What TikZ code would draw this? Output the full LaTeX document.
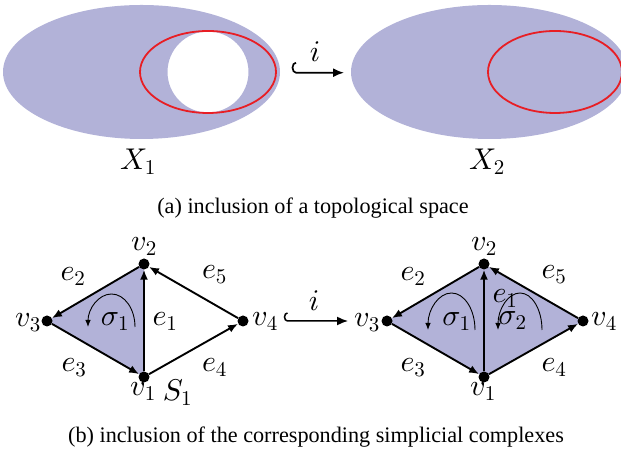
\documentclass[tikz,border=0pt]{standalone}
\usepackage[no-math]{fontspec}
\setmainfont{Liberation Serif}
\DeclareFontFamily{OML}{cmm}{\skewchar\font127 }
\DeclareFontShape{OML}{cmm}{m}{it}{<-8>cmmi7 <8->cmmi10}{}
\DeclareFontFamily{OT1}{cmr}{\hyphenchar\font45 }
\DeclareFontShape{OT1}{cmr}{m}{n}{<-8>cmr7 <8->cmr10}{}
\usetikzlibrary{arrows.meta,calc}
\definecolor{lav}{RGB}{178,178,216}
\definecolor{myred}{RGB}{232,30,36}
\tikzset{
  mlab/.style={inner sep=0pt, anchor=base, font=\fontsize{30}{32}\selectfont},
  captext/.style={inner sep=0pt, font=\fontsize{22.2}{24}\selectfont},
  dot/.style={circle, fill=black, inner sep=0pt, minimum size=11pt},
  edge/.style={line width=1.9pt, -{Latex[length=10pt,width=8pt]}},
  rot/.style={line width=0.9pt, -{Latex[length=7pt,width=5.5pt]}},
  incl/.style={line width=1.7pt, -{Latex[length=11pt,width=9pt]}},
  redloop/.style={draw=myred, line width=1.8pt}
}
\begin{document}
\begin{tikzpicture}[x=1pt,y=1pt]
\useasboundingbox (0,0) rectangle (621,462);
\clip (0,0) rectangle (621,462);
\begin{scope}[shift={(0,462)}, yscale=-1]
% ---- (a) topological spaces
\fill[lav, even odd rule] (141.5,72) ellipse[x radius=138.5, y radius=67]
      (208,72) circle[radius=40.5];
\draw[redloop] (208,72) ellipse[x radius=68, y radius=41];
\fill[lav] (489.5,72) ellipse[x radius=138.5, y radius=67];
\draw[redloop] (555,72) ellipse[x radius=67, y radius=41];
\coordinate (ta) at (295,72.7);
\coordinate (tb) at (344,72.7);
\draw[incl] ($(ta)+(1,-10)$) arc[start angle=270, end angle=90, x radius=3.5, y radius=5] -- (tb);
\node[mlab] (ti) at (315,62) {$i$};
\node[mlab] (X1) at (138,170) {$X_1$};
\node[mlab] (X2) at (487,170) {$X_2$};
\node[captext] (capa) at (313,208) {(a) inclusion of a topological space};
% ---- (b) simplicial complexes, left
\coordinate (p1) at (144,377);
\coordinate (p2) at (144,264);
\coordinate (p3) at (47,321);
\coordinate (p4) at (243,321);
\fill[lav] (p1) -- (p2) -- (p3) -- cycle;
\node[dot] (a1) at (p1) {};
\node[dot] (a2) at (p2) {};
\node[dot] (a3) at (p3) {};
\node[dot] (a4) at (p4) {};
\draw[edge] (a1) -- (a2);
\draw[edge] (a2) -- (a3);
\draw[edge] (a3) -- (a1);
\draw[edge] (a1) -- (a4);
\draw[edge] (a4) -- (a2);
\draw[rot] (135,327) arc[start angle=0, end angle=-180, x radius=23.5, y radius=33];
\node[mlab] at (115,326) {$\sigma_1$};
\node[mlab] at (144,251) {$v_2$};
\node[mlab] at (28,327) {$v_3$};
\node[mlab] at (265,326) {$v_4$};
\node[mlab] at (143,396) {$v_1$};
\node[mlab] at (177.5,401) {$S_1$};
\node[mlab] at (73,281) {$e_2$};
\node[mlab] at (214.5,279) {$e_5$};
\node[mlab] at (165,326) {$e_1$};
\node[mlab] at (74,372) {$e_3$};
\node[mlab] at (214.5,372) {$e_4$};
% inclusion arrow
\coordinate (ba) at (287,321);
\coordinate (bb) at (348,321);
\draw[incl, line width=1.5pt] ($(ba)+(0.5,-8)$) arc[start angle=270, end angle=90, x radius=3, y radius=4] -- (bb);
\node[mlab] (bi) at (314,311) {$i$};
% ---- right complex
\coordinate (q1) at (484,377);
\coordinate (q2) at (484,264);
\coordinate (q3) at (387,321);
\coordinate (q4) at (583,321);
\fill[lav] (q1) -- (q4) -- (q2) -- (q3) -- cycle;
\node[dot] (b1) at (q1) {};
\node[dot] (b2) at (q2) {};
\node[dot] (b3) at (q3) {};
\node[dot] (b4) at (q4) {};
\draw[edge] (b1) -- (b2);
\draw[edge] (b2) -- (b3);
\draw[edge] (b3) -- (b1);
\draw[edge] (b1) -- (b4);
\draw[edge] (b4) -- (b2);
\draw[rot] (475,330) arc[start angle=0, end angle=-180, x radius=23.5, y radius=37];
\draw[rot] (542,330) arc[start angle=0, end angle=-180, x radius=22, y radius=37];
\node[mlab] at (456.5,326) {$\sigma_1$};
\node[mlab] at (512.5,325) {$\sigma_2$};
\node[mlab] at (484,251) {$v_2$};
\node[mlab] at (367,327) {$v_3$};
\node[mlab] at (604,326) {$v_4$};
\node[mlab] at (483,396) {$v_1$};
\node[mlab] at (413,281) {$e_2$};
\node[mlab] at (554,279) {$e_5$};
\node[mlab] at (505,303) {$e_1$};
\node[mlab] at (413,372) {$e_3$};
\node[mlab] at (554,372) {$e_4$};
\node[captext] (capb) at (316,437) {(b) inclusion of the corresponding simplicial complexes};
\end{scope}
\end{tikzpicture}
\end{document}
